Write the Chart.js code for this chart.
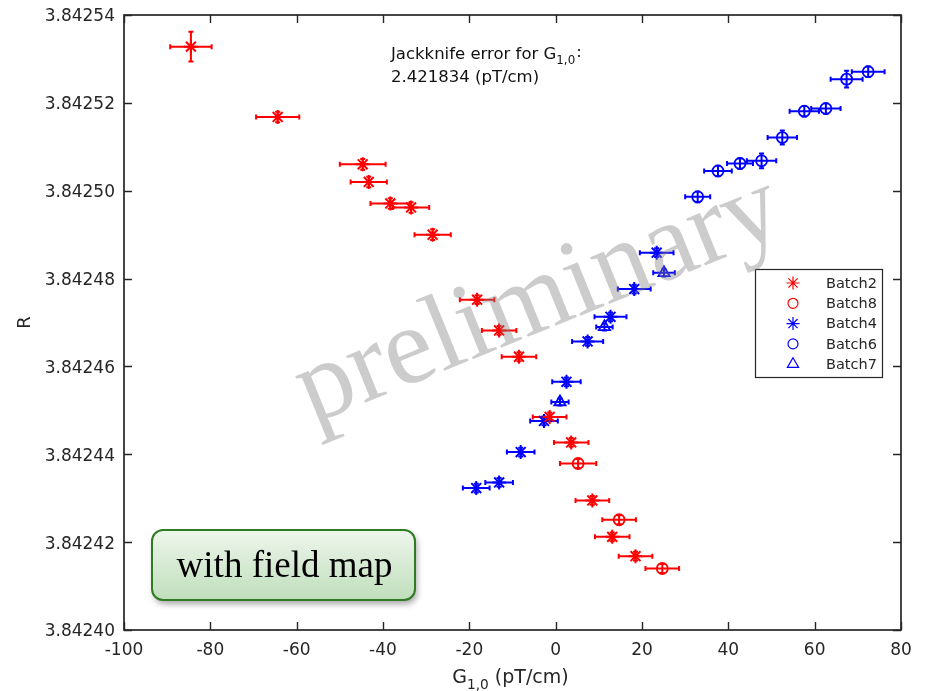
<!DOCTYPE html>
<html>
<head>
<meta charset="utf-8">
<script src="https://cdn.jsdelivr.net/npm/chart.js@4.4.0/dist/chart.umd.min.js"></script>
<style>
html, body { margin: 0; padding: 0; background: #fff; }
canvas { display: block; }
</style>
</head>
<body>
<canvas id="chart" width="926" height="691"></canvas>
<script>
// G_1,0 (pT/cm) against R, one set of arrays per batch
var batch2X = [-84.5, -64.4, -44.7, -43.3, -38.3, -33.5, -28.5, -18.2, -13.1, -8.5, -1.4, 3.6, 8.5, 13.1, 18.5]
var batch2R = [3.8425328, 3.8425168, 3.8425060, 3.8425020, 3.8424971, 3.8424962, 3.8424900, 3.8424752, 3.8424682, 3.8424622, 3.8424485, 3.8424427, 3.8424295, 3.8424212, 3.8424168]
var batch2XErr = [4.8, 5.0, 5.3, 4.2, 4.6, 4.2, 4.2, 4.0, 4.0, 4.0, 3.9, 4.0, 3.9, 4.0, 3.9]
var batch2RErr = [3.4e-6, 1.2e-6, 1.2e-6, 1.2e-6, 1.2e-6, 1.2e-6, 1.2e-6, 1.0e-6, 1.0e-6, 1.0e-6, 1.0e-6, 1.0e-6, 1.0e-6, 1.0e-6, 1.0e-6]

var batch8X = [5.2, 14.7, 24.7]
var batch8R = [3.8424379, 3.8424251, 3.8424140]
var batch8XErr = [4.2, 3.9, 3.9]
var batch8RErr = [1.0e-6, 1.0e-6, 1.0e-6]

var batch4X = [23.4, 18.2, 12.7, 7.4, 2.5, -2.7, -8.1, -13.1, -18.4]
var batch4R = [3.8424859, 3.8424776, 3.8424713, 3.8424657, 3.8424565, 3.8424476, 3.8424405, 3.8424336, 3.8424323]
var batch4XErr = [3.9, 3.8, 3.7, 3.6, 3.3, 3.2, 3.2, 3.2, 3.1]
var batch4RErr = [1.0e-6, 1.0e-6, 1.0e-6, 1.0e-6, 1.0e-6, 1.0e-6, 1.0e-6, 1.0e-6, 1.0e-6]

var batch6X = [32.9, 37.6, 42.7, 47.7, 52.5, 57.6, 62.6, 67.4, 72.4]
var batch6R = [3.8424986, 3.8425045, 3.8425062, 3.8425068, 3.8425121, 3.8425181, 3.8425187, 3.8425254, 3.8425271]
var batch6XErr = [2.9, 3.2, 3.0, 3.4, 3.4, 3.4, 3.4, 3.7, 3.8]
var batch6RErr = [1.2e-6, 1.2e-6, 1.2e-6, 1.7e-6, 1.6e-6, 1.2e-6, 1.2e-6, 1.9e-6, 1.2e-6]

var batch7X = [25.1, 11.3, 1.0]
var batch7R = [3.8424813, 3.8424690, 3.8424519]
var batch7XErr = [2.5, 1.9, 2.0]
var batch7RErr = [0.8e-6, 0.8e-6, 0.8e-6]

var xTicks = [-100, -80, -60, -40, -20, 0, 20, 40, 60, 80]
var yTicks = [3.84240, 3.84242, 3.84244, 3.84246, 3.84248, 3.84250, 3.84252, 3.84254]

var jackknifeError = '2.421834'

var RED = '#ff0000'
var BLUE = '#0000ff'
var AXIS = '#262626'
var FONT = '"DejaVu Sans", sans-serif'
var SERIF = '"Liberation Serif", "Times New Roman", serif'

function makeSet(label, xs, rs, xe, re, color, style, radius) {
  return {
    label: label,
    data: xs.map(function (x, i) { return { x: x, y: rs[i], xErr: xe[i], yErr: re[i] } }),
    borderColor: color,
    backgroundColor: 'rgba(0,0,0,0)',
    pointStyle: style,
    pointRadius: radius,
    pointHoverRadius: radius,
    pointBorderWidth: style === 'star' ? 2 : 1.8,
    showLine: false
  }
}

var datasets = [
  makeSet('Batch2', batch2X, batch2R, batch2XErr, batch2RErr, RED, 'star', 7),
  makeSet('Batch8', batch8X, batch8R, batch8XErr, batch8RErr, RED, 'circle', 5.5),
  makeSet('Batch4', batch4X, batch4R, batch4XErr, batch4RErr, BLUE, 'star', 7),
  makeSet('Batch6', batch6X, batch6R, batch6XErr, batch6RErr, BLUE, 'circle', 5.5),
  makeSet('Batch7', batch7X, batch7R, batch7XErr, batch7RErr, BLUE, 'triangle', 6.5)
]

// horizontal and vertical error bars with small caps
var errorBars = {
  id: 'errorBars',
  beforeDatasetsDraw: function (chart) {
    var ctx = chart.ctx, xs = chart.scales.x, ys = chart.scales.y
    ctx.save()
    ctx.lineWidth = 2
    chart.data.datasets.forEach(function (ds) {
      ctx.strokeStyle = ds.borderColor
      ds.data.forEach(function (p) {
        var px = xs.getPixelForValue(p.x), py = ys.getPixelForValue(p.y)
        var x0 = xs.getPixelForValue(p.x - p.xErr), x1 = xs.getPixelForValue(p.x + p.xErr)
        var y0 = ys.getPixelForValue(p.y - p.yErr), y1 = ys.getPixelForValue(p.y + p.yErr)
        ctx.beginPath()
        ctx.moveTo(x0, py); ctx.lineTo(x1, py)
        ctx.moveTo(x0, py - 2.5); ctx.lineTo(x0, py + 2.5)
        ctx.moveTo(x1, py - 2.5); ctx.lineTo(x1, py + 2.5)
        ctx.moveTo(px, y0); ctx.lineTo(px, y1)
        ctx.moveTo(px - 2.5, y0); ctx.lineTo(px + 2.5, y0)
        ctx.moveTo(px - 2.5, y1); ctx.lineTo(px + 2.5, y1)
        ctx.stroke()
      })
    })
    ctx.restore()
  }
}

// text with a lowered, smaller subscript part; returns the end x
function subText(ctx, parts, x, y, size) {
  parts.forEach(function (p) {
    ctx.font = (p.sub ? size * 0.72 : size) + 'px ' + FONT
    ctx.fillText(p.t, x, y + (p.sub ? size * 0.3 : 0))
    x += ctx.measureText(p.t).width
  })
  return x
}

function partsWidth(ctx, parts, size) {
  var w = 0
  parts.forEach(function (p) {
    ctx.font = (p.sub ? size * 0.72 : size) + 'px ' + FONT
    w += ctx.measureText(p.t).width
  })
  return w
}

var decorations = {
  id: 'decorations',
  afterDatasetsDraw: function (chart) {
    var ctx = chart.ctx, a = chart.chartArea, xs = chart.scales.x, ys = chart.scales.y
    ctx.save()

    // axes box with inward ticks on all sides
    ctx.strokeStyle = AXIS
    ctx.lineWidth = 1.7
    ctx.strokeRect(a.left, a.top, a.right - a.left, a.bottom - a.top)
    ctx.lineWidth = 1.4
    ctx.beginPath()
    xTicks.forEach(function (v) {
      var px = Math.round(xs.getPixelForValue(v)) + 0.5
      ctx.moveTo(px, a.bottom); ctx.lineTo(px, a.bottom - 8)
      ctx.moveTo(px, a.top); ctx.lineTo(px, a.top + 8)
    })
    yTicks.forEach(function (v) {
      var py = Math.round(ys.getPixelForValue(v)) + 0.5
      ctx.moveTo(a.left, py); ctx.lineTo(a.left + 8, py)
      ctx.moveTo(a.right, py); ctx.lineTo(a.right - 8, py)
    })
    ctx.stroke()

    // axis titles
    ctx.fillStyle = AXIS
    ctx.textBaseline = 'alphabetic'
    ctx.textAlign = 'left'
    var xTitle = [{ t: 'G' }, { t: '1,0', sub: true }, { t: ' (pT/cm)' }]
    var w = partsWidth(ctx, xTitle, 19)
    subText(ctx, xTitle, (a.left + a.right) / 2 - w / 2 - 2, 683, 19)

    ctx.save()
    ctx.translate(30, (a.top + a.bottom) / 2)
    ctx.rotate(-Math.PI / 2)
    ctx.textAlign = 'center'
    ctx.font = '18px ' + FONT
    ctx.fillText('R', 0, 0)
    ctx.restore()

    // jackknife note
    ctx.fillStyle = '#111'
    ctx.textAlign = 'left'
    var ex = subText(ctx, [{ t: 'Jackknife error for G' }, { t: '1,0', sub: true }], 391, 59, 16.5)
    ctx.font = '16.5px ' + FONT
    ctx.fillText(':', ex + 1, 57)
    ctx.fillText(jackknifeError + ' (pT/cm)', 391, 82)

    // legend
    var lx = 755, ly = 269, lw = 127, lh = 108
    ctx.fillStyle = '#fff'
    ctx.fillRect(lx, ly, lw, lh)
    ctx.strokeStyle = AXIS
    ctx.lineWidth = 1.2
    ctx.strokeRect(lx + 0.5, ly + 0.5, lw, lh)
    ctx.font = '14.5px ' + FONT
    ctx.textBaseline = 'middle'
    chart.data.datasets.forEach(function (ds, i) {
      var ry = 283 + i * 20.3
      ctx.strokeStyle = ds.borderColor
      ctx.fillStyle = 'rgba(0,0,0,0)'
      Chart.helpers.drawPoint(ctx, {
        pointStyle: ds.pointStyle, rotation: 0,
        radius: ds.pointStyle === 'circle' ? 5 : 6.5,
        borderWidth: 2.2
      }, 793, ry)
      ctx.fillStyle = AXIS
      ctx.fillText(ds.label, 826, ry + 1)
    })
    ctx.restore()
  }
}

var overlays = {
  id: 'overlays',
  afterDraw: function (chart) {
    var ctx = chart.ctx
    ctx.save()

    // "preliminary" stamp across the data
    ctx.translate(550, 328)
    ctx.rotate(-22 * Math.PI / 180)
    ctx.font = '110px ' + SERIF
    ctx.textAlign = 'center'
    ctx.textBaseline = 'alphabetic'
    ctx.fillStyle = 'rgba(128,128,128,0.4)'
    ctx.fillText('preliminary', 0, 0)
    ctx.restore()

    // green label box
    ctx.save()
    var bx = 152, by = 530, bw = 263, bh = 70
    ctx.shadowColor = 'rgba(0,0,0,0.35)'
    ctx.shadowBlur = 6
    ctx.shadowOffsetX = 2
    ctx.shadowOffsetY = 4
    var g = ctx.createLinearGradient(0, by, 0, by + bh)
    g.addColorStop(0, '#eef6ec')
    g.addColorStop(1, '#bfdebb')
    ctx.fillStyle = g
    ctx.beginPath()
    ctx.roundRect(bx, by, bw, bh, 11)
    ctx.fill()
    ctx.shadowColor = 'rgba(0,0,0,0)'
    ctx.strokeStyle = '#2f7a22'
    ctx.lineWidth = 2
    ctx.stroke()
    ctx.fillStyle = '#000'
    ctx.font = '37px ' + SERIF
    ctx.textAlign = 'center'
    ctx.textBaseline = 'middle'
    ctx.fillText('with field map', bx + bw / 2 + 1, by + bh / 2 + 2)
    ctx.restore()
  }
}

var ctx = document.getElementById('chart').getContext('2d')
var chart = new Chart(ctx, {
  type: 'scatter',
  data: { datasets: datasets },
  options: {
    responsive: false,
    animation: false,
    devicePixelRatio: 1,
    layout: { padding: { left: 0, top: 15, right: 25, bottom: 0 } },
    plugins: { legend: { display: false }, tooltip: { enabled: false } },
    scales: {
      x: {
        type: 'linear',
        min: -100,
        max: 80,
        afterBuildTicks: function (s) { s.ticks = xTicks.map(function (v) { return { value: v } }) },
        afterFit: function (s) { s.height = 61 },
        grid: { display: false },
        border: { display: false },
        ticks: {
          autoSkip: false,
          maxRotation: 0,
          padding: 2,
          color: AXIS,
          font: { family: FONT, size: 17 },
          callback: function (v) { return String(v) }
        }
      },
      y: {
        type: 'linear',
        min: 3.84240,
        max: 3.84254,
        afterBuildTicks: function (s) { s.ticks = yTicks.map(function (v) { return { value: v } }) },
        afterFit: function (s) { s.width = 124 },
        grid: { display: false },
        border: { display: false },
        ticks: {
          autoSkip: false,
          padding: 1,
          labelOffset: 2,
          color: AXIS,
          font: { family: FONT, size: 17 },
          callback: function (v) { return Number(v).toFixed(5) }
        }
      }
    }
  },
  plugins: [errorBars, decorations, overlays]
})
</script>
</body>
</html>
